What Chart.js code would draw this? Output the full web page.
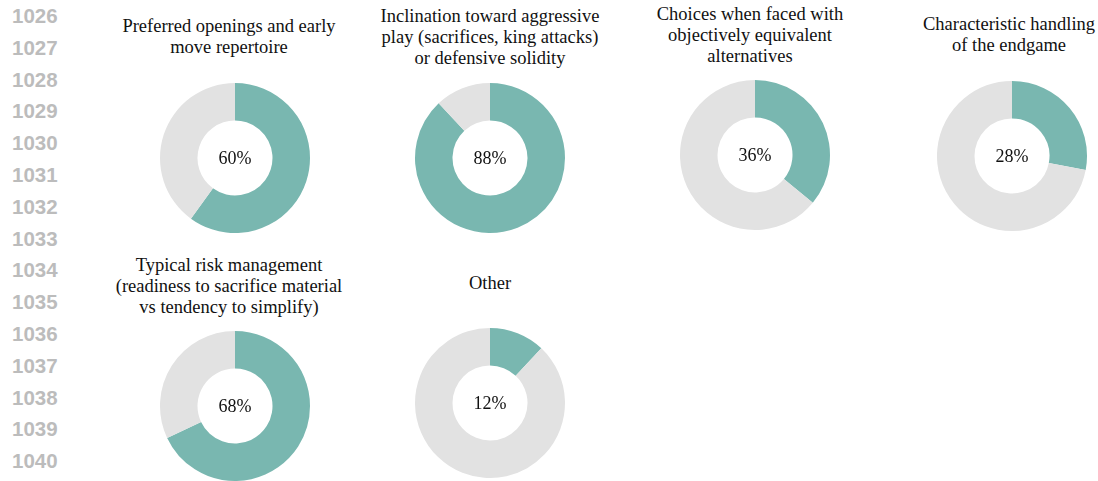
<!DOCTYPE html>
<html>
<head>
<meta charset="utf-8">
<script src="https://cdn.jsdelivr.net/npm/chart.js@4/dist/chart.umd.min.js"></script>
<style>
  html, body { margin: 0; padding: 0; background: #fff; }
  body { width: 1098px; height: 481px; position: relative; overflow: hidden; }
  .gutter {
    position: absolute; left: 12px; top: 0;
    font: bold 20.5px "Liberation Sans", Arial, sans-serif;
    color: #bcbcbc;
  }
  .gutter div { height: 31.8px; line-height: 32px; }
  .title {
    position: absolute; width: 280px; height: 72px;
    display: flex; align-items: center; justify-content: center;
    text-align: center;
    font: 18.5px "Liberation Serif", "Times New Roman", serif;
    line-height: 21px;
    color: #111;
  }
  .donut { position: absolute; width: 160px; height: 150px; }
</style>
</head>
<body>
<div class="gutter" id="gutter"></div>

<script>
// line numbers down the left margin
const lineNumbers = [1026, 1027, 1028, 1029, 1030, 1031, 1032, 1033, 1034, 1035, 1036, 1037, 1038, 1039, 1040];

// one donut per aspect, title split into its display lines
const categories = [
  ['Preferred openings and early', 'move repertoire'],
  ['Inclination toward aggressive', 'play (sacrifices, king attacks)', 'or defensive solidity'],
  ['Choices when faced with', 'objectively equivalent', 'alternatives'],
  ['Characteristic handling', 'of the endgame'],
  ['Typical risk management', '(readiness to sacrifice material', 'vs tendency to simplify)'],
  ['Other'],
];
const shares = [60, 88, 36, 28, 68, 12];

const COLOR_SHARE = '#79b7b0';
const COLOR_REST = '#e2e2e2';

// panel layout: [title centre x, title centre y, donut centre x, donut centre y]
const slots = [
  [229, 37, 235, 158],
  [490, 37, 490, 158],
  [750, 35, 755, 155],
  [1009, 35, 1012, 156],
  [229, 286, 235, 406],
  [490, 283, 490, 403],
];

const gutter = document.getElementById('gutter');
lineNumbers.forEach(n => {
  const d = document.createElement('div');
  d.textContent = n;
  gutter.appendChild(d);
});

// writes the share in the hole of the ring
const centerLabel = {
  id: 'centerLabel',
  afterDatasetsDraw(chart) {
    const arc = chart.getDatasetMeta(0).data[0];
    if (!arc) return;
    const { ctx } = chart;
    ctx.save();
    ctx.font = '18px "Liberation Serif", "Times New Roman", serif';
    ctx.fillStyle = '#111';
    ctx.textAlign = 'center';
    ctx.textBaseline = 'middle';
    ctx.fillText(chart.data.datasets[0].data[0] + '%', arc.x, arc.y + 1);
    ctx.restore();
  },
};

categories.forEach((lines, i) => {
  const [tx, ty, dx, dy] = slots[i];

  const title = document.createElement('div');
  title.className = 'title';
  title.style.left = (tx - 140) + 'px';
  title.style.top = (ty - 36) + 'px';
  title.innerHTML = lines.join('<br>');
  document.body.appendChild(title);

  const box = document.createElement('div');
  box.className = 'donut';
  box.style.left = (dx - 80) + 'px';
  box.style.top = (dy - 75) + 'px';
  const canvas = document.createElement('canvas');
  box.appendChild(canvas);
  document.body.appendChild(box);

  new Chart(canvas, {
    type: 'doughnut',
    data: {
      labels: ['Share', 'Rest'],
      datasets: [{
        data: [shares[i], 100 - shares[i]],
        backgroundColor: [COLOR_SHARE, COLOR_REST],
        borderWidth: 0,
      }],
    },
    options: {
      responsive: true,
      maintainAspectRatio: false,
      animation: false,
      cutout: '50%',
      layout: { padding: 0 },
      plugins: {
        legend: { display: false },
        tooltip: { enabled: false },
      },
    },
    plugins: [centerLabel],
  });
});
</script>
</body>
</html>
